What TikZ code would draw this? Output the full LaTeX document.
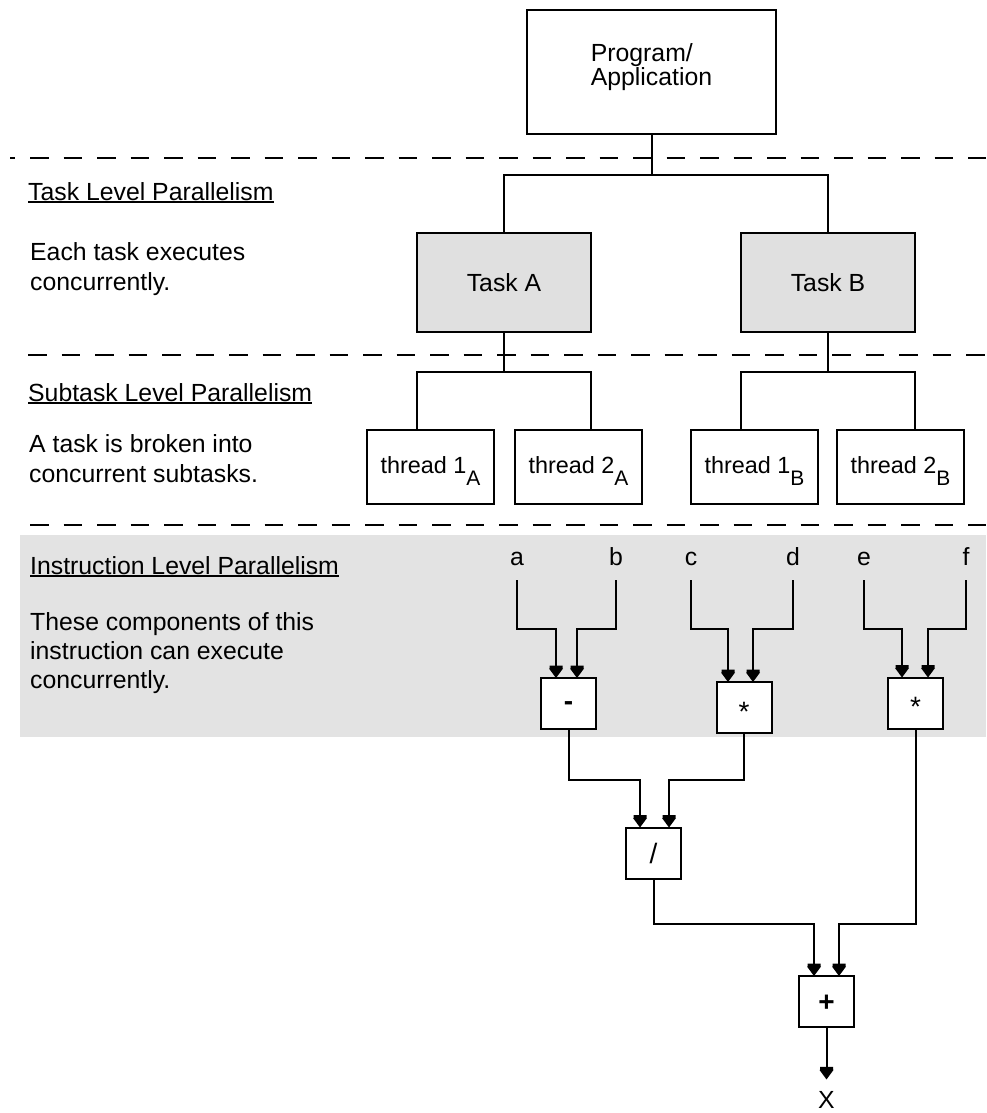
\documentclass[tikz,border=0pt]{standalone}
\usepackage{fontspec}
\setmainfont{Liberation Sans}
\usetikzlibrary{arrows.meta,calc}

% Filled triangle with a short bar behind it
\pgfdeclarearrow{
  name = BarTip,
  setup code = {
    \pgfarrowssettipend{0pt}
    \pgfarrowssetbackend{-12.5pt}
    \pgfarrowssetlineend{-6pt}
    \pgfarrowshullpoint{0pt}{0pt}
    \pgfarrowsupperhullpoint{-12.5pt}{7pt}
  },
  drawing code = {
    \pgfpathmoveto{\pgfqpoint{0pt}{0pt}}
    \pgfpathlineto{\pgfqpoint{-9.5pt}{7pt}}
    \pgfpathlineto{\pgfqpoint{-9.5pt}{-7pt}}
    \pgfpathclose
    \pgfpathrectangle{\pgfqpoint{-12.5pt}{-6.5pt}}{\pgfqpoint{3.2pt}{13pt}}
    \pgfusepathqfill
  }
}

\definecolor{bandgray}{HTML}{E3E3E3}
\definecolor{taskgray}{HTML}{E0E0E0}

\newcommand\bodyfont{\fontsize{24.8pt}{30pt}\selectfont}
\newcommand\progfont{\fontsize{24.8pt}{22.5pt}\selectfont}
\newcommand\threadfont{\fontsize{23.4pt}{28pt}\selectfont}
\newcommand\opfont{\fontsize{28pt}{30pt}\selectfont}
\newcommand\subtag[1]{\raisebox{-12pt}{\fontsize{21pt}{21pt}\selectfont #1}}
\newcommand\lowered[2]{\raisebox{-#1}{#2}}
\newcommand\headline[1]{\setbox0\hbox{#1}\rlap{\rule[-2.5pt]{\wd0}{1.6pt}}\box0}

\begin{document}
\begin{tikzpicture}[x=1pt,y=-1pt,
  wire/.style={line width=2pt, black},
  arr/.style={wire, -{BarTip}},
  divider/.style={line width=2pt, dash pattern=on 18.5pt off 15pt},
  note/.style={anchor=base west, inner sep=0pt, font=\bodyfont},
  progbox/.style={draw, line width=2pt, fill=white, minimum width=249pt,
    minimum height=124pt, inner sep=0pt, outer sep=0pt, align=left, font=\progfont},
  taskbox/.style={draw, line width=2pt, fill=taskgray, minimum width=174pt,
    minimum height=99pt, inner sep=0pt, outer sep=0pt, font=\bodyfont},
  threadbox/.style={draw, line width=2pt, fill=white, minimum width=127pt,
    minimum height=74pt, inner sep=0pt, outer sep=0pt, font=\threadfont,
    text height=18pt, text depth=6pt},
  opbox/.style={draw, line width=2pt, fill=white, minimum width=55pt,
    minimum height=51pt, inner sep=0pt, outer sep=0pt, text height=0pt,
    text depth=0pt, font=\opfont},
  varlabel/.style={anchor=base, inner sep=0pt, outer xsep=0pt, outer ysep=15pt,
    font=\bodyfont}
]
\useasboundingbox (0,0) rectangle (986,1113);

% shaded band of the instruction level
\fill[bandgray] (20,535) rectangle (986,737);

% level separators
\draw[divider, dash phase=13.5pt] (10,158) -- (986,158);
\draw[divider] (28,355) -- (986,355);
\draw[divider] (30,525) -- (986,525);

% left-hand descriptions
\node[note] (h1)  at (28,200) {\headline{Task Level Parallelism}};
\node[note] (d1a) at (30,260) {Each task executes};
\node[note] (d1b) at (30,290) {concurrently.};
\node[note] (h2)  at (28,401) {\headline{Subtask Level Parallelism}};
\node[note] (d2a) at (29,452) {A task is broken into};
\node[note] (d2b) at (29,482) {concurrent subtasks.};
\node[note] (h3)  at (30,574) {\headline{Instruction Level Parallelism}};
\node[note] (d3a) at (30,630) {These components of this};
\node[note] (d3b) at (30,659) {instruction can execute};
\node[note] (d3c) at (30,688) {concurrently.};

% program and tasks
\node[progbox] (prog) at (651.5,72) {Program/\\Application\rule[-15pt]{0pt}{0pt}};
\node[taskbox] (ta) at (504,282.5) {Task A};
\node[taskbox] (tb) at (828,282.5) {Task B};

\coordinate (bus0) at (651.5,175);
\draw[wire] (prog.south) -- (bus0);
\draw[wire] (ta.north) |- (bus0) -| (tb.north);

% threads
\node[threadbox] (t1a) at (430.5,467) {thread 1\subtag{A}};
\node[threadbox] (t2a) at (578.5,467) {thread 2\subtag{A}};
\node[threadbox] (t1b) at (754.5,467) {thread 1\subtag{B}};
\node[threadbox] (t2b) at (900.5,467) {thread 2\subtag{B}};

\coordinate (busA) at (504,372);
\coordinate (busB) at (828,372);
\draw[wire] (ta.south) -- (busA);
\draw[wire] (t1a.north -| ta.west) |- (busA) -| (t2a.north -| ta.east);
\draw[wire] (tb.south) -- (busB);
\draw[wire] (t1b.north -| tb.west) |- (busB) -| (t2b.north -| tb.east);

% operands
\node[varlabel] (la) at (517,565) {a};
\node[varlabel] (lb) at (616,565) {b};
\node[varlabel] (lc) at (691,565) {c};
\node[varlabel] (ld) at (793,565) {d};
\node[varlabel] (le) at (864,565) {e};
\node[varlabel] (lf) at (966,565) {f};

% operators
\node[opbox] (minus) at (568.5,703.5) {\lowered{7pt}{\bfseries -}};
\node[opbox] (mula)  at (744,707.5) {\lowered{13.5pt}{*}};
\node[opbox] (mulb)  at (915.5,703) {\lowered{13.5pt}{*}};
\node[opbox] (div)   at (653.5,853) {\lowered{10pt}{/}};
\node[opbox] (plus)  at (826.5,1001.5) {\lowered{10pt}{\bfseries +}};
\node[varlabel, outer ysep=12pt] (res) at (826.5,1108.5) {X};

% operator inputs
\coordinate (mi1) at ($(minus.north)+(-12.5,0)$);
\coordinate (mi2) at ($(minus.north)+(8.5,0)$);
\coordinate (ai1) at ($(mula.north)+(-16,0)$);
\coordinate (ai2) at ($(mula.north)+(9,0)$);
\coordinate (bi1) at ($(mulb.north)+(-13.5,0)$);
\coordinate (bi2) at ($(mulb.north)+(12.5,0)$);
\coordinate (di1) at ($(div.north)+(-13.5,0)$);
\coordinate (di2) at ($(div.north)+(15.5,0)$);
\coordinate (pi1) at ($(plus.north)+(-12.5,0)$);
\coordinate (pi2) at ($(plus.north)+(12.5,0)$);

\coordinate (row1) at (0,629);
\coordinate (row2) at (0,780);
\coordinate (row3) at (0,924);

\draw[arr] (la.south) |- (row1 -| mi1) -- (mi1);
\draw[arr] (lb.south) |- (row1 -| mi2) -- (mi2);
\draw[arr] (lc.south) |- (row1 -| ai1) -- (ai1);
\draw[arr] (ld.south) |- (row1 -| ai2) -- (ai2);
\draw[arr] (le.south) |- (row1 -| bi1) -- (bi1);
\draw[arr] (lf.south) |- (row1 -| bi2) -- (bi2);

\draw[arr] (minus.south) |- (row2 -| di1) -- (di1);
\draw[arr] (mula.south)  |- (row2 -| di2) -- (di2);

\draw[arr] (div.south)  |- (row3 -| pi1) -- (pi1);
\draw[arr] (mulb.south) |- (row3 -| pi2) -- (pi2);

\draw[arr] (plus.south) -- (res.north);
\end{tikzpicture}
\end{document}
